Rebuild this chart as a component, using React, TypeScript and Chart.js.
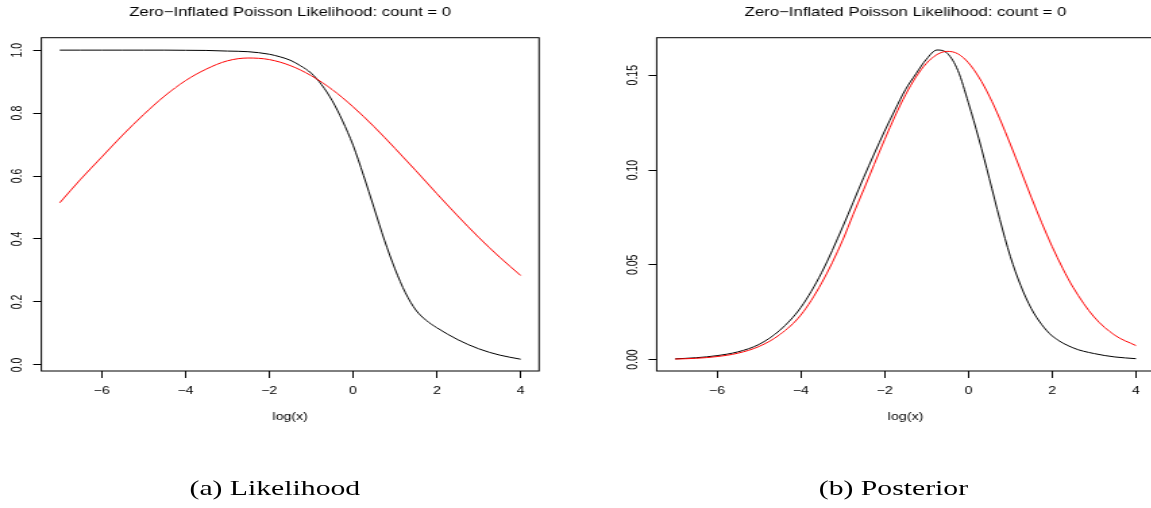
import React, { useEffect, useRef } from 'react';
import { Chart, registerables } from 'chart.js';

Chart.register(...registerables);

// The whole reference figure is stretched horizontally
const STRETCH = 1.35;

const TITLE = 'Zero\u2212Inflated Poisson Likelihood: count = 0';
const X_LABEL = 'log(x)';
const CAPTIONS = ['(a) Likelihood', '(b) Posterior'];

const xTicks = [-6, -4, -2, 0, 2, 4];
const xTickLabels = ['\u22126', '\u22124', '\u22122', '0', '2', '4'];

const likYTicks = [0, 0.2, 0.4, 0.6, 0.8, 1.0];
const likYTickLabels = ['0.0', '0.2', '0.4', '0.6', '0.8', '1.0'];
const postYTicks = [0, 0.05, 0.1, 0.15];
const postYTickLabels = ['0.00', '0.05', '0.10', '0.15'];

// (a) Likelihood — black curve
const likBlackX = [-7, -6.5, -6, -5.5, -5, -4.5, -4, -3.5, -3, -2.5, -2, -1.75, -1.5, -1.25, -1, -0.75, -0.5, -0.25, 0, 0.25, 0.5, 0.75, 1, 1.25, 1.5, 1.75, 2, 2.5, 3, 3.5, 4];
const likBlack = [1.0, 1.0, 1.0, 1.0, 1.0, 1.0, 0.9995, 0.999, 0.997, 0.995, 0.987, 0.979, 0.968, 0.95, 0.927, 0.89, 0.84, 0.775, 0.698, 0.602, 0.499, 0.396, 0.305, 0.229, 0.174, 0.141, 0.118, 0.08, 0.051, 0.031, 0.018];

// (a) Likelihood — red curve
const likRedX = [-7, -6.5, -6, -5.5, -5, -4.5, -4, -3.5, -3, -2.5, -2, -1.5, -1, -0.5, 0, 0.5, 1, 1.5, 2, 2.5, 3, 3.5, 4];
const likRed = [0.515, 0.59, 0.66, 0.73, 0.795, 0.854, 0.903, 0.94, 0.966, 0.975, 0.97, 0.951, 0.919, 0.875, 0.82, 0.757, 0.688, 0.617, 0.544, 0.473, 0.405, 0.342, 0.284];

// (b) Posterior — black curve
const postBlackX = [-7, -6.5, -6, -5.5, -5, -4.5, -4, -3.5, -3, -2.5, -2, -1.75, -1.5, -1.25, -1, -0.75, -0.5, -0.25, 0, 0.25, 0.5, 0.75, 1, 1.25, 1.5, 1.75, 2, 2.5, 3, 3.5, 4];
const postBlack = [0.0004, 0.001, 0.0021, 0.0041, 0.008, 0.0155, 0.0275, 0.046, 0.07, 0.096, 0.1205, 0.1318, 0.1425, 0.1508, 0.1585, 0.1633, 0.1615, 0.1525, 0.1355, 0.1165, 0.0955, 0.074, 0.0545, 0.039, 0.027, 0.0185, 0.0125, 0.0062, 0.0032, 0.0014, 0.0005];

// (b) Posterior — red curve
const postRedX = [-7, -6.5, -6, -5.5, -5, -4.5, -4, -3.5, -3, -2.75, -2.5, -2.25, -2, -1.75, -1.5, -1.25, -1, -0.75, -0.5, -0.25, 0, 0.25, 0.5, 0.75, 1, 1.25, 1.5, 1.75, 2, 2.25, 2.5, 3, 3.5, 4];
const postRed = [0.0003, 0.0007, 0.0016, 0.0034, 0.0069, 0.0132, 0.0235, 0.0405, 0.063, 0.0766, 0.0896, 0.1029, 0.116, 0.1285, 0.1397, 0.1491, 0.1563, 0.1609, 0.1626, 0.1613, 0.1566, 0.149, 0.139, 0.127, 0.1137, 0.0998, 0.0857, 0.0722, 0.0596, 0.0482, 0.0381, 0.0225, 0.0128, 0.0074];

const FONT = '"Liberation Sans", Arial, Helvetica, sans-serif';
const AXIS_SIZE = 10.5;
const MAIN_SIZE = 12.4;

const framePlugin = {
  id: 'rFrame',
  afterDraw(chart: any, _args: any, opts: any) {
    const { ctx, chartArea: a } = chart;
    ctx.save();
    ctx.strokeStyle = '#000';
    ctx.lineWidth = 1;
    ctx.strokeRect(a.left, a.top, a.right - a.left, a.bottom - a.top);
    const ys = chart.scales.y;
    ctx.fillStyle = '#000';
    ctx.font = `${AXIS_SIZE}px ${FONT}`;
    ctx.textAlign = 'center';
    ctx.textBaseline = 'alphabetic';
    (opts.values as number[]).forEach((v, i) => {
      const y = ys.getPixelForValue(v);
      ctx.save();
      ctx.translate(a.left - 14.45, y);
      ctx.rotate(-Math.PI / 2);
      ctx.fillText(opts.labels[i], 0, 0);
      ctx.restore();
    });
    ctx.restore();
  },
};

type Series = { xs: number[]; ys: number[]; color: string };

function makeChart(
  canvas: HTMLCanvasElement,
  cfg: {
    padLeft: number;
    padRight: number;
    yMin: number;
    yMax: number;
    yTicks: number[];
    yLabels: string[];
    series: Series[];
  }
) {
  return new Chart(canvas, {
    type: 'line',
    data: {
      datasets: cfg.series.map((s) => ({
        data: s.xs.map((x, i) => ({ x, y: s.ys[i] })),
        borderColor: s.color,
        backgroundColor: s.color,
        borderWidth: 1,
        pointRadius: 0,
        fill: false,
        cubicInterpolationMode: 'monotone' as const,
      })),
    },
    options: {
      responsive: false,
      animation: false,
      devicePixelRatio: 1,
      events: [],
      layout: { padding: { left: cfg.padLeft, right: cfg.padRight, top: 0, bottom: 0 } },
      plugins: {
        legend: { display: false },
        tooltip: { enabled: false },
        title: {
          display: true,
          text: TITLE,
          color: '#000',
          font: { family: FONT, size: MAIN_SIZE, weight: 'normal' },
          padding: { top: 5.06, bottom: 17.76 },
        },
        rFrame: { values: cfg.yTicks, labels: cfg.yLabels },
      } as any,
      scales: {
        x: {
          type: 'linear',
          min: -7.44,
          max: 4.44,
          afterBuildTicks: (s: any) => {
            s.ticks = xTicks.map((v) => ({ value: v }));
          },
          afterFit: (s: any) => {
            s.height = 69;
          },
          border: { display: false },
          grid: {
            display: true,
            drawOnChartArea: false,
            drawTicks: true,
            tickLength: 7,
            tickColor: '#000',
            tickWidth: 1,
          },
          ticks: {
            color: '#000',
            font: { family: FONT, size: AXIS_SIZE },
            padding: 7.0,
            maxRotation: 0,
            minRotation: 0,
            autoSkip: false,
            callback: (_v: any, i: number) => xTickLabels[i],
          },
          title: {
            display: true,
            text: X_LABEL,
            color: '#000',
            font: { family: FONT, size: AXIS_SIZE },
            padding: { top: 0, bottom: 16.4 },
          },
        },
        y: {
          type: 'linear',
          min: cfg.yMin,
          max: cfg.yMax,
          afterBuildTicks: (s: any) => {
            s.ticks = cfg.yTicks.map((v) => ({ value: v }));
          },
          afterFit: (s: any) => {
            s.width = 0;
          },
          border: { display: false },
          grid: {
            display: true,
            drawOnChartArea: false,
            drawTicks: true,
            tickLength: 6,
            tickColor: '#000',
            tickWidth: 1,
          },
          ticks: { display: false },
        },
      },
    },
    plugins: [framePlugin],
  } as any);
}

const captionStyle = (cx: number): React.CSSProperties => ({
  position: 'absolute',
  left: cx - 200,
  width: 400,
  top: 476.6,
  textAlign: 'center',
  fontFamily: '"Liberation Serif", "Times New Roman", serif',
  fontSize: 22,
  lineHeight: '22px',
  color: '#000',
  whiteSpace: 'nowrap',
});

export default function App() {
  const leftRef = useRef<HTMLCanvasElement>(null);
  const rightRef = useRef<HTMLCanvasElement>(null);

  useEffect(() => {
    const charts = [
      makeChart(leftRef.current!, {
        padLeft: 30.6,
        padRight: 26.7,
        yMin: -0.0195,
        yMax: 1.0395,
        yTicks: likYTicks,
        yLabels: likYTickLabels,
        series: [
          { xs: likRedX, ys: likRed, color: '#ff0000' },
          { xs: likBlackX, ys: likBlack, color: '#000000' },
        ],
      }),
      makeChart(rightRef.current!, {
        padLeft: 60.4,
        padRight: 20.9,
        yMin: -0.006,
        yMax: 0.1698,
        yTicks: postYTicks,
        yLabels: postYTickLabels,
        series: [
          { xs: postRedX, ys: postRed, color: '#ff0000' },
          { xs: postBlackX, ys: postBlack, color: '#000000' },
        ],
      }),
    ];
    return () => charts.forEach((c) => c.destroy());
  }, []);

  return (
    <div
      style={{
        position: 'absolute',
        left: 0,
        top: 0,
        width: 1151,
        height: 508,
        overflow: 'hidden',
        background: '#fff',
      }}
    >
      <div
        style={{
          position: 'absolute',
          left: 0,
          top: 0,
          width: 880,
          height: 508,
          transform: `scaleX(${STRETCH})`,
          transformOrigin: '0 0',
        }}
      >
        <canvas
          ref={leftRef}
          width={426}
          height={440}
          style={{ position: 'absolute', left: 0, top: 0, width: 426, height: 440 }}
        />
        <canvas
          ref={rightRef}
          width={450}
          height={440}
          style={{ position: 'absolute', left: 426, top: 0, width: 450, height: 440 }}
        />
        <div style={captionStyle(203.6)}>{CAPTIONS[0]}</div>
        <div style={captionStyle(661.8)}>{CAPTIONS[1]}</div>
      </div>
    </div>
  );
}
